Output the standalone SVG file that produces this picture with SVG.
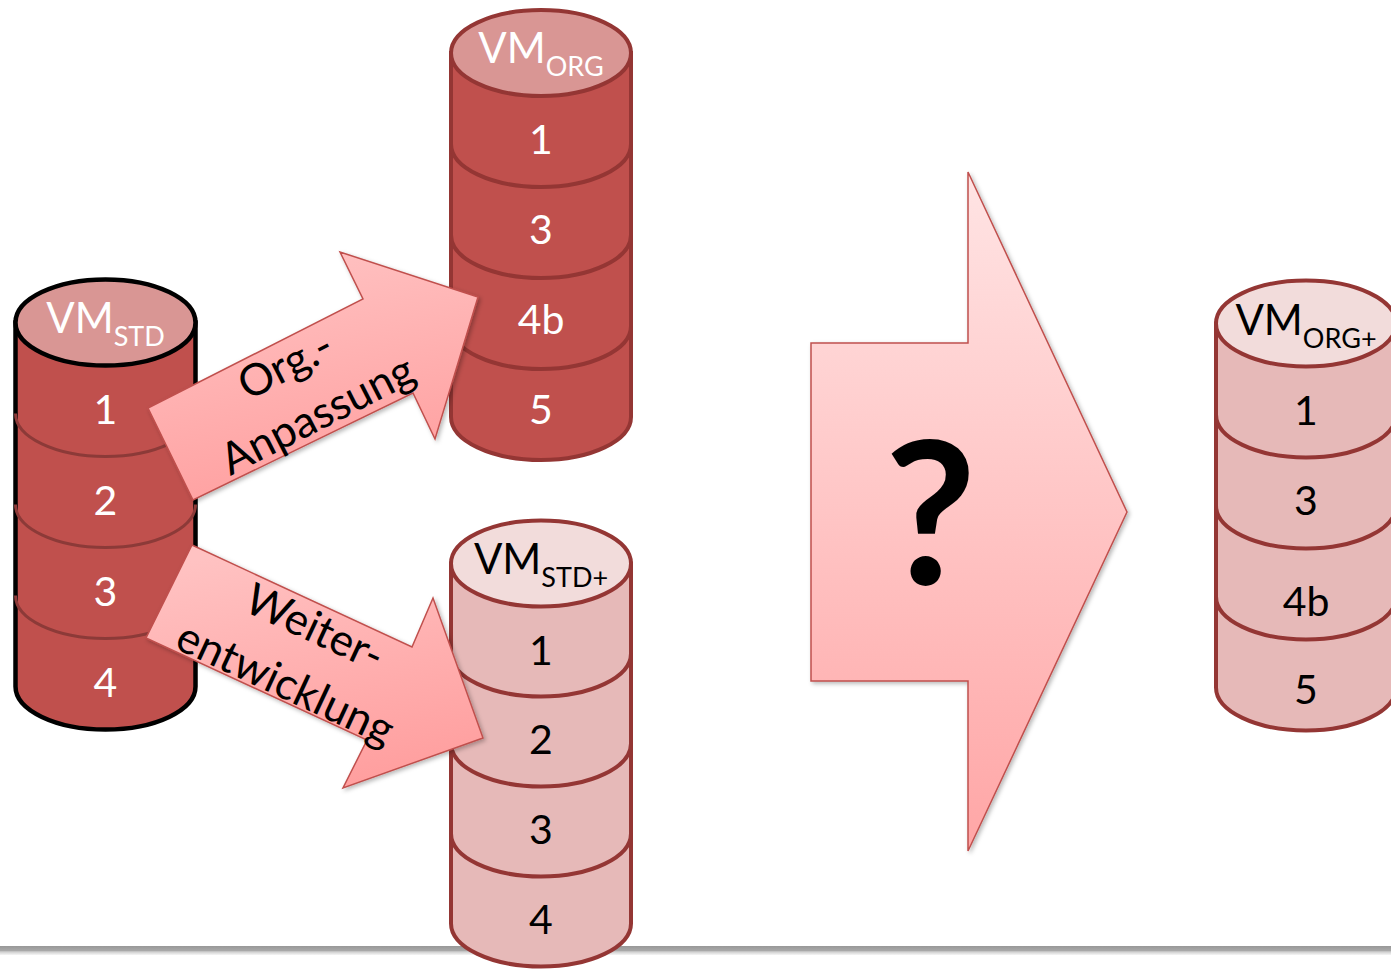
<svg xmlns="http://www.w3.org/2000/svg" width="1391" height="969" viewBox="0 0 1391 969">
  <defs>
    <style>
      .lbl { font-family: Lato, "Open Sans", "Liberation Sans", sans-serif; text-anchor: middle; }
      .num { font-size: 41px; }
      .vm { font-size: 42px; }
      .sub { font-size: 27px; }
      .white { fill: #ffffff; }
      .black { fill: #000000; }
      .dark .body { fill: #C0504D; }
      .dark .lid { fill: #D99694; }
      .light .body { fill: #E6B9B8; }
      .light .lid { fill: #F2DCDB; }
      .red-edge .body, .red-edge .lid, .red-edge .sep { stroke: #943634; stroke-width: 4; }
      .black-edge .body, .black-edge .lid { stroke: #000000; stroke-width: 4.5; }
      .black-edge .sep { stroke: #8C3A38; stroke-width: 3; }
      .sep { fill: none; }
      .arrow { stroke: #C0504D; stroke-width: 1.5; stroke-linejoin: miter; filter: url(#shadow); }
      .arrow-text { font-family: Lato, "Open Sans", "Liberation Sans", sans-serif; font-size: 44px; fill: #000000; text-anchor: middle; }
    </style>
    <linearGradient id="gradSmall" x1="0.35" y1="0" x2="0.65" y2="1">
      <stop offset="0" stop-color="#FFC2C2"/>
      <stop offset="1" stop-color="#FF9E9E"/>
    </linearGradient>
    <linearGradient id="gradBig" x1="0" y1="0" x2="0" y2="1">
      <stop offset="0" stop-color="#FFE4E4"/>
      <stop offset="1" stop-color="#FFA6A6"/>
    </linearGradient>
    <linearGradient id="gradRule" x1="0" y1="0" x2="0" y2="1">
      <stop offset="0" stop-color="#989898"/>
      <stop offset="0.5" stop-color="#A8A8A8"/>
      <stop offset="0.65" stop-color="#CFCFCF"/>
      <stop offset="1" stop-color="#F6F6F6"/>
    </linearGradient>
    <filter id="shadow" x="-10%" y="-10%" width="130%" height="130%">
      <feDropShadow dx="2" dy="2" stdDeviation="2" flood-color="#000000" flood-opacity="0.28"/>
    </filter>
  </defs>

  <rect x="0" y="0" width="1391" height="969" fill="#ffffff"/>

  <!-- base rule along the bottom -->
  <rect x="0" y="946" width="1391" height="9" fill="url(#gradRule)"/>

  <g id="nodes">
    <!-- VM STD: cx 105.5, lid 322.5, step 91 -->
    <g id="vm-std" class="dark black-edge">
      <path class="body" d="M15.5,322.5 V686.5 A90,43 0 0 0 195.5,686.5 V322.5 Z"/>
      <path class="sep" d="M15.5,413.5 A90,43 0 0 0 195.5,413.5"/>
      <path class="sep" d="M15.5,504.5 A90,43 0 0 0 195.5,504.5"/>
      <path class="sep" d="M15.5,595.5 A90,43 0 0 0 195.5,595.5"/>
      <ellipse class="lid" cx="105.5" cy="322.5" rx="90" ry="43"/>
      <text class="lbl vm white" x="105.5" y="333"><tspan>VM</tspan><tspan class="sub" dy="12.5">STD</tspan></text>
      <text class="lbl num white" x="105.5" y="423.5">1</text>
      <text class="lbl num white" x="105.5" y="514.5">2</text>
      <text class="lbl num white" x="105.5" y="605.5">3</text>
      <text class="lbl num white" x="105.5" y="696.5">4</text>
    </g>

    <!-- VM ORG: cx 541, lid 53, step 91 -->
    <g id="vm-org" class="dark red-edge">
      <path class="body" d="M451,53 V417 A90,43 0 0 0 631,417 V53 Z"/>
      <path class="sep" d="M451,144 A90,43 0 0 0 631,144"/>
      <path class="sep" d="M451,235 A90,43 0 0 0 631,235"/>
      <path class="sep" d="M451,326 A90,43 0 0 0 631,326"/>
      <ellipse class="lid" cx="541" cy="53" rx="90" ry="43"/>
      <text class="lbl vm white" x="541" y="63"><tspan>VM</tspan><tspan class="sub" dy="13">ORG</tspan></text>
      <text class="lbl num white" x="541" y="154">1</text>
      <text class="lbl num white" x="541" y="244">3</text>
      <text class="lbl num white" x="541" y="334">4b</text>
      <text class="lbl num white" x="541" y="424">5</text>
    </g>

    <!-- VM STD+: cx 541, lid 563.5, step 90 -->
    <g id="vm-std-plus" class="light red-edge">
      <path class="body" d="M451,563.5 V923.5 A90,43 0 0 0 631,923.5 V563.5 Z"/>
      <path class="sep" d="M451,653.5 A90,43 0 0 0 631,653.5"/>
      <path class="sep" d="M451,743.5 A90,43 0 0 0 631,743.5"/>
      <path class="sep" d="M451,833.5 A90,43 0 0 0 631,833.5"/>
      <ellipse class="lid" cx="541" cy="563.5" rx="90" ry="43"/>
      <text class="lbl vm black" x="541" y="573.5"><tspan>VM</tspan><tspan class="sub" dy="13">STD+</tspan></text>
      <text class="lbl num black" x="541" y="664.5">1</text>
      <text class="lbl num black" x="541" y="753.5">2</text>
      <text class="lbl num black" x="541" y="843.5">3</text>
      <text class="lbl num black" x="541" y="933.5">4</text>
    </g>

    <!-- VM ORG+: cx 1306, lid 323.5, step 91 -->
    <g id="vm-org-plus" class="light red-edge">
      <path class="body" d="M1216,323.5 V687.5 A90,43 0 0 0 1396,687.5 V323.5 Z"/>
      <path class="sep" d="M1216,414.5 A90,43 0 0 0 1396,414.5"/>
      <path class="sep" d="M1216,505.5 A90,43 0 0 0 1396,505.5"/>
      <path class="sep" d="M1216,596.5 A90,43 0 0 0 1396,596.5"/>
      <ellipse class="lid" cx="1306" cy="323.5" rx="90" ry="43"/>
      <text class="lbl vm black" x="1306" y="334.5"><tspan>VM</tspan><tspan class="sub" dy="13">ORG+</tspan></text>
      <text class="lbl num black" x="1306" y="424.5">1</text>
      <text class="lbl num black" x="1306" y="514.5">3</text>
      <text class="lbl num black" x="1306" y="616">4b</text>
      <text class="lbl num black" x="1306" y="704">5</text>
    </g>
  </g>

  <g id="connectors">
    <!-- Org.-Anpassung: VM STD -> VM ORG -->
    <g id="arrow-org">
      <polygon class="arrow" fill="url(#gradSmall)" points="148,408 363,299 340,252 478,297 435,439 413,393 193,500"/>
      <g transform="translate(303,393) rotate(-27)">
        <text class="arrow-text" x="-3" y="-18">Org.-</text>
        <text class="arrow-text" x="3" y="41">Anpassung</text>
      </g>
    </g>

    <!-- Weiterentwicklung: VM STD -> VM STD+ -->
    <g id="arrow-dev">
      <polygon class="arrow" fill="url(#gradSmall)" points="192,545 412,647 433,598 483,738 343,788 367,740 146,638"/>
      <g transform="translate(300,657) rotate(25)">
        <text class="arrow-text" x="1" y="-18">Weiter-</text>
        <text class="arrow-text" x="-2" y="45">entwicklung</text>
      </g>
    </g>

    <!-- merge step: ? -> VM ORG+ -->
    <g id="arrow-merge">
      <polygon class="arrow" fill="url(#gradBig)" stroke-width="2" points="811,343 968,343 968,172 1127,512 968,851 968,681 811,681"/>
      <text x="930.5" y="585" font-family="Lato, 'Open Sans', 'Liberation Sans', sans-serif" font-weight="bold" font-size="200" text-anchor="middle" fill="#000000">?</text>
    </g>
  </g>
</svg>
